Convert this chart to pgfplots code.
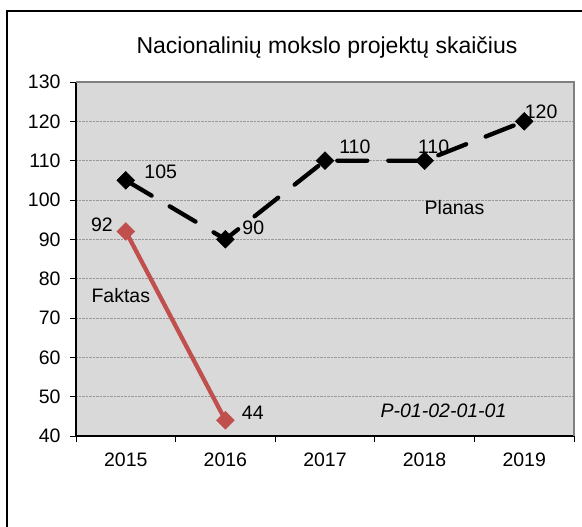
\documentclass[border=0pt]{standalone}
\usepackage{pgfplots}
\pgfplotsset{compat=1.18}
\usepackage{fontspec}
\setmainfont{Liberation Sans}
\definecolor{bgray}{HTML}{D9D9D9}
\definecolor{fred}{HTML}{C0504D}
\definecolor{edgegray}{HTML}{808080}
\begin{document}
\begin{tikzpicture}
\useasboundingbox (0,0) rectangle (582pt,527pt);
\fill[white] (0,0) rectangle (582pt,527pt);
\draw[line width=2pt] (7pt,-5pt) -- (7pt,516pt) -- (590pt,516pt);
\node[font=\fontsize{23}{26}\selectfont] at (327pt,479pt) {Nacionalinių mokslo projektų skaičius};
\begin{axis}[
  at={(76pt,91pt)}, anchor=south west,
  scale only axis, width=498pt, height=354pt,
  xmin=-0.5, xmax=4.5, ymin=40, ymax=130,
  xtick={0,1,2,3,4},
  xticklabels={2015,2016,2017,2018,2019},
  minor xtick={-0.5,0.5,1.5,2.5,3.5,4.5},
  ytick={40,50,...,130},
  xtick pos=bottom, ytick pos=left,
  major x tick style={draw=none},
  minor x tick style={draw=black, line width=0.6pt},
  y tick style={draw=black, line width=0.6pt},
  tick align=outside,
  major tick length=6pt, minor tick length=6pt,
  ymajorgrids,
  major grid style={densely dotted, draw=gray!80, line width=0.5pt},
  axis background/.style={fill=bgray},
  axis line style={draw=none},
  tick label style={font=\fontsize{19.5}{22}\selectfont},
  /pgf/number format/assume math mode=true,
  yticklabel style={xshift=-6pt},
  xticklabel style={yshift=-7pt},
  clip=false,
  after end axis/.code={
    \draw[black, line width=1.3pt] (rel axis cs:0,1) -- (rel axis cs:0,0) -- (rel axis cs:1,0);
    \draw[edgegray, line width=2pt] (rel axis cs:0,1) -- (rel axis cs:1,1) -- (rel axis cs:1,0);
  },
]
\addplot[black, line width=4.3pt, line cap=round, dash pattern=on 30pt off 21pt,
  mark=square*, mark size=6.3pt, mark options={solid, rotate=45, fill=black, draw=black, line width=0.5pt}]
  coordinates {(0,105) (1,90) (2,110) (3,110) (4,120)};
\addplot[fred, line width=4.3pt, line cap=round,
  mark=square*, mark size=6.3pt, mark options={solid, rotate=45, fill=fred, draw=fred, line width=0.5pt}]
  coordinates {(0,92) (1,44)};
\begin{scope}[font=\fontsize{19.5}{22}\selectfont]
\node at (axis cs:0.351,107.1) {105};
\node at (axis cs:1.28,92.9) {90};
\node at (axis cs:2.30,113.5) {110};
\node at (axis cs:3.09,113.5) {110};
\node at (axis cs:4.17,122.4) {120};
\node at (axis cs:-0.24,93.6) {92};
\node at (axis cs:1.275,45.8) {44};
\node at (axis cs:-0.05,75.6) {Faktas};
\node at (axis cs:3.30,98.0) {Planas};
\node at (axis cs:3.19,46.4) {\itshape P-01-02-01-01};
\end{scope}
\end{axis}
\end{tikzpicture}
\end{document}
